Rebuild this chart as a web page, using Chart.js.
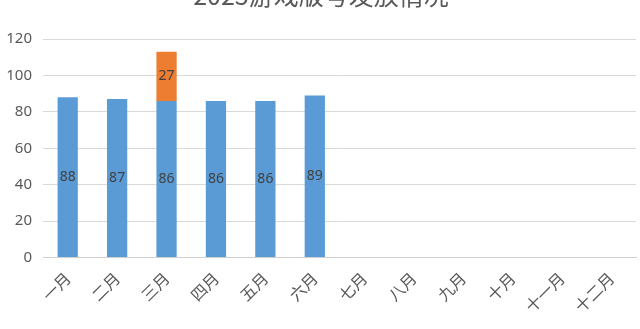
<!DOCTYPE html>
<html>
<head>
<meta charset="utf-8">
<script src="https://cdn.jsdelivr.net/npm/chart.js@4/dist/chart.umd.min.js"></script>
<style>
  html, body { margin: 0; padding: 0; background: #ffffff; overflow: hidden; }
  #wrap { position: relative; width: 640px; height: 329px; overflow: hidden; }
  #c { position: absolute; left: 0; top: -20px; }
</style>
</head>
<body>
<div id="wrap"><canvas id="c" width="640" height="349"></canvas></div>
<script>
const chartTitle = '2023游戏版号发放情况';
const months = ['一月', '二月', '三月', '四月', '五月', '六月', '七月', '八月', '九月', '十月', '十一月', '十二月'];
const domesticGames = [88, 87, 86, 86, 86, 89, null, null, null, null, null, null];
const importedGames = [null, null, 27, null, null, null, null, null, null, null, null, null];
const yTicks = [0, 20, 40, 60, 80, 100, 120];

// Writes each bar's value in the middle of its segment
const barValueLabels = {
  id: 'barValueLabels',
  afterDatasetsDraw(chart) {
    const ctx = chart.ctx;
    ctx.save();
    ctx.font = '14px "Noto Sans", "DejaVu Sans", sans-serif';
    ctx.fillStyle = '#404040';
    ctx.textAlign = 'center';
    ctx.textBaseline = 'middle';
    chart.data.datasets.forEach((ds, i) => {
      const meta = chart.getDatasetMeta(i);
      meta.data.forEach((bar, j) => {
        const v = ds.data[j];
        if (v === null || v === undefined) return;
        const p = bar.getProps(['x', 'y', 'base'], true);
        ctx.fillText(String(v), p.x, (p.y + p.base) / 2);
      });
    });
    ctx.restore();
  }
};

// Keeps the rotated month labels from pushing the plot area inwards
const noSidePadding = {
  id: 'noSidePadding',
  beforeLayout(chart) {
    const x = chart.scales.x;
    if (x && !x._patchedPadding) {
      x._patchedPadding = true;
      const orig = x.getPadding.bind(x);
      x.getPadding = function () {
        const p = orig();
        return { left: 0, right: 0, top: p.top, bottom: p.bottom };
      };
    }
  }
};

new Chart(document.getElementById('c'), {
  type: 'bar',
  data: {
    labels: months,
    datasets: [
      { label: '国产', data: domesticGames, backgroundColor: '#5B9BD5', barPercentage: 0.82, categoryPercentage: 0.5 },
      { label: '进口', data: importedGames, backgroundColor: '#ED7D31', barPercentage: 0.82, categoryPercentage: 0.5 }
    ]
  },
  options: {
    responsive: false,
    animation: false,
    layout: { padding: { left: 6, right: 4, top: 0, bottom: 2 } },
    plugins: {
      legend: { display: false },
      tooltip: { enabled: false },
      title: {
        display: true,
        text: chartTitle,
        color: '#595959',
        font: { family: '"Noto Sans CJK SC", sans-serif', size: 25, weight: 'normal' },
        padding: { top: 0, bottom: 29 }
      }
    },
    scales: {
      x: {
        stacked: true,
        grid: { display: false, drawTicks: false },
        border: { color: '#d0d0d0', width: 1 },
        ticks: {
          color: '#595959',
          font: { family: '"Noto Sans CJK SC", sans-serif', size: 16 },
          minRotation: 45,
          maxRotation: 45,
          padding: 11
        }
      },
      y: {
        stacked: true,
        min: 0,
        max: 120,
        afterBuildTicks(axis) { axis.ticks = yTicks.map(v => ({ value: v })); },
        afterFit(axis) { axis.width = 37; },
        grid: { color: '#d9d9d9', drawTicks: false },
        border: { display: false },
        ticks: {
          color: '#595959',
          font: { family: '"Noto Sans", sans-serif', size: 15 },
          padding: 11
        }
      }
    }
  },
  plugins: [barValueLabels, noSidePadding]
});
</script>
</body>
</html>
